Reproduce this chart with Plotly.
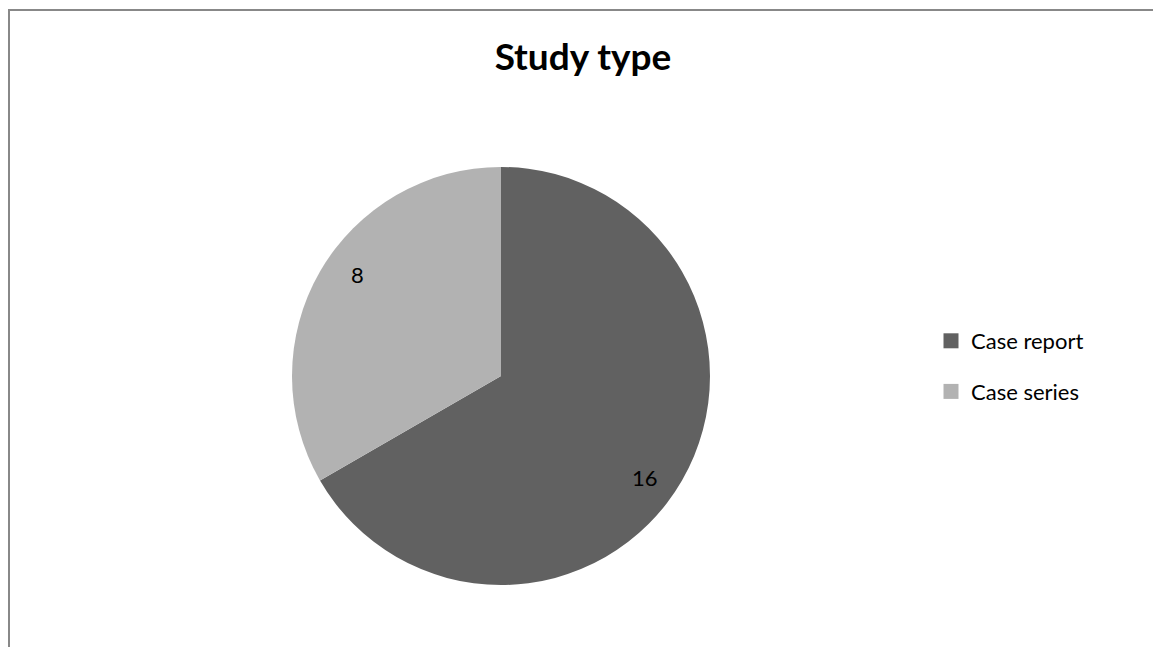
import math
import plotly.graph_objects as go

categories = ["Case report", "Case series"]
values = [16, 8]
colors = ["#616161", "#b2b2b2"]
title_text = "Study type"

# page is drawn with the browser's 8px body margin, so keep the figure inside the window
OFF = 8
W, H = 1161 - 2 * OFF, 655 - 2 * OFF
FONT = "Lato"


def px(xp):
    return (xp - OFF) / W


def py(yp):
    return 1 - (yp - OFF) / H


# pie geometry in page pixels
cx, cy, r = 501, 376, 209
lab_rx, lab_ry = 166, 203

fig = go.Figure()
fig.add_trace(go.Pie(
    labels=categories, values=values, sort=False, direction="clockwise",
    rotation=0, marker=dict(colors=colors, line=dict(width=0)),
    textinfo="none", hoverinfo="label+value", showlegend=False,
    domain=dict(x=[px(cx - r), px(cx + r)], y=[py(cy + r), py(cy - r)]),
))

# legend entries
for c, col in zip(categories, colors):
    fig.add_trace(go.Scatter(
        x=[None], y=[None], mode="markers", name=c, legendgroup=c,
        marker=dict(symbol="square", size=15, color=col),
        showlegend=True,
    ))

# data labels along slice bisectors
total = sum(values)
cum = 0
annotations = []
for v in values:
    mid = (cum + v / 2) / total * 2 * math.pi
    cum += v
    lx = cx + lab_rx * math.sin(mid)
    ly = cy - lab_ry * math.cos(mid)
    annotations.append(dict(
        x=px(lx), y=py(ly), xref="paper", yref="paper",
        text=str(v), showarrow=False,
        font=dict(family=FONT, size=22, color="#000000"),
        xanchor="center", yanchor="middle",
    ))

border = dict(color="#888888", width=2)
fig.update_layout(
    width=W, height=H,
    margin=dict(l=0, r=0, t=0, b=0),
    paper_bgcolor="white", plot_bgcolor="white",
    xaxis=dict(visible=False), yaxis=dict(visible=False),
    title=dict(text="<b>%s</b>" % title_text, x=px(583), xanchor="center",
               y=py(57), yanchor="middle",
               font=dict(family=FONT, size=37, color="#000000")),
    legend=dict(x=px(931), y=py(320), xanchor="left", yanchor="top",
                traceorder="grouped", tracegroupgap=19,
                font=dict(family=FONT, size=22, color="#000000"),
                bgcolor="rgba(0,0,0,0)"),
    annotations=annotations,
    shapes=[
        dict(type="line", xref="paper", yref="paper",
             x0=1 / W, x1=1 / W, y0=0, y1=py(10), line=border, layer="above"),
        dict(type="line", xref="paper", yref="paper",
             x0=0, x1=1.02, y0=py(10), y1=py(10), line=border, layer="above"),
    ],
)

fig.write_html("out.html")
